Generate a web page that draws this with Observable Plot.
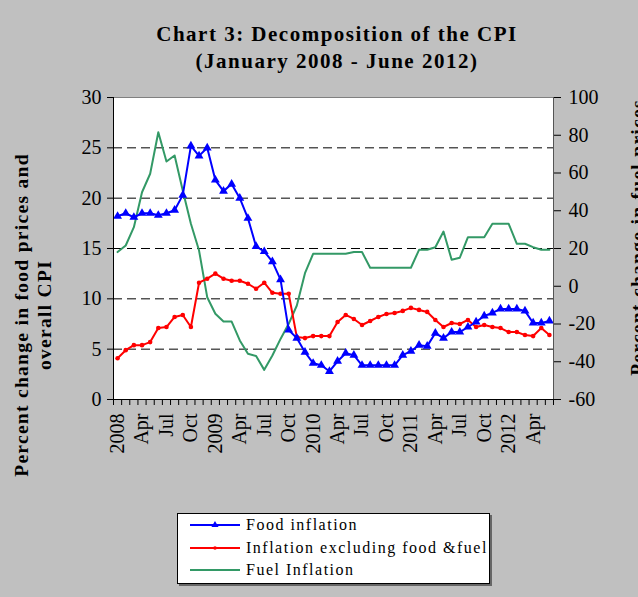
<!DOCTYPE html>
<html>
<head>
<meta charset="utf-8">
<script src="https://cdn.jsdelivr.net/npm/d3@7"></script>
<script src="https://cdn.jsdelivr.net/npm/@observablehq/plot@0.6"></script>
<style>
  html, body { margin: 0; padding: 0; }
  #wrap { position: relative; width: 638px; height: 597px; background: #c0c0c0; overflow: hidden;
          font-family: "Liberation Serif", "Times New Roman", serif; }
  #title { position: absolute; left: 36px; top: 21px; width: 602px; text-align: center; font-weight: bold;
           font-size: 21px; line-height: 27px; letter-spacing: 1.5px; color: #000; }
  #chart { position: absolute; left: 0; top: 80px; }
  .ytitle { position: absolute; font-weight: bold; font-size: 19.5px; line-height: 23px; text-align: center;
            transform: rotate(-90deg); transform-origin: center center; letter-spacing: 1.3px; white-space: nowrap; }
  #legend { position: absolute; left: 177px; top: 513px; width: 311px; height: 69px; background: #fff;
            border: 1px solid #000; box-shadow: 2px 2px 0 #666; }
  .lrow { position: absolute; left: 0; height: 20px; display: flex; align-items: center; font-size: 16px;
          letter-spacing: 1.5px; white-space: nowrap; }
  .lrow svg { margin-left: 12px; margin-right: 6px; }
</style>
</head>
<body>
<div id="wrap">
  <div id="title">Chart 3: Decomposition of the CPI<br>(January 2008 - June 2012)</div>
  <div id="chart"></div>
  <div class="ytitle" style="left:-167px; top:292px; width:400px; height:46px;">Percent change in food prices and<br>overall CPI</div>
  <div class="ytitle" style="left:487px; top:226px; width:300px; height:23px;">Percent change in fuel prices</div>
  <div id="legend"></div>
</div>
<script>
// Monthly data, January 2008 – June 2012
const food = [18.2,18.5,18.1,18.5,18.5,18.3,18.5,18.8,20.3,25.2,
              24.2,25.0,21.8,20.7,21.4,20.0,18.0,15.2,14.7,13.7,
              11.9,6.9,6.1,4.7,3.6,3.4,2.8,3.8,4.6,4.4,
              3.4,3.4,3.4,3.4,3.4,4.4,4.8,5.4,5.3,6.6,
              6.1,6.7,6.7,7.2,7.7,8.3,8.6,9.0,9.0,9.0,
              8.8,7.6,7.6,7.8];
const core = [4.1,4.9,5.4,5.4,5.7,7.1,7.2,8.2,8.4,7.2,
              11.6,12.0,12.5,12.0,11.8,11.8,11.5,11.0,11.6,10.6,
              10.5,10.5,6.2,6.1,6.3,6.3,6.3,7.7,8.4,8.0,
              7.4,7.8,8.2,8.5,8.6,8.8,9.1,8.9,8.7,7.9,
              7.2,7.6,7.5,7.9,7.2,7.4,7.2,7.1,6.7,6.7,
              6.4,6.3,7.1,6.4];
const fuel = [18.1,21.6,31.3,49.8,59.6,81.6,66.1,69.3,50.7,33.1,
              18.9,-5.8,-14.6,-18.7,-18.7,-28.7,-35.8,-37.0,-44.3,-36.7,
              -27.9,-19.9,-10.2,6.9,17.2,17.2,17.2,17.2,17.2,18.1,
              18.1,9.8,9.8,9.8,9.8,9.8,9.8,19.3,19.3,20.7,
              29.0,14.0,15.1,26.0,26.0,26.0,33.1,33.1,33.1,22.5,
              22.5,20.7,19.3,19.3];
const tickLabels = ["2008","Apr","Jul","Oct","2009","Apr","Jul","Oct","2010","Apr","Jul","Oct",
                    "2011","Apr","Jul","Oct","2012","Apr"];
const leftTicks = [0,5,10,15,20,25,30];
const gridLines = [5,10,15,20,25];
const rightTicks = [-60,-40,-20,0,20,40,60,80,100];
const seriesNames = ["Food inflation", "Inflation excluding food &fuel", "Fuel Inflation"];
const colors = ["#0000ff", "#ff0000", "#339966"];

// right axis (fuel) mapped onto left scale: [-60,100] -> [0,30]
const k = 30 / 160;
const toLeft = f => (f + 60) * k;
const fromLeft = v => Math.round(v / k - 60);

const n = food.length;
const rows = d3.range(n).map(i => ({i, food: food[i], core: core[i], fuel: fuel[i], fuelY: toLeft(fuel[i])}));
const font = '"Liberation Serif", "Times New Roman", serif';

const chart = Plot.plot({
  width: 638,
  height: 420,
  marginTop: 17,
  marginBottom: 101,
  marginLeft: 113,
  marginRight: 85,
  style: {background: "#fff0", fontFamily: font, fontSize: "20px", color: "#000", overflow: "visible"},
  x: {type: "linear", domain: [-0.5, n - 0.5], axis: null},
  y: {domain: [0, 30], axis: null},
  marks: [
    Plot.frame({fill: "#fff", stroke: "#808080"}),
    Plot.ruleY(gridLines, {stroke: "#000", strokeDasharray: "9,5", strokeWidth: 1}),
    Plot.line(rows, {x: "i", y: "fuelY", stroke: colors[2], strokeWidth: 2}),
    Plot.line(rows, {x: "i", y: "core", stroke: colors[1], strokeWidth: 2}),
    Plot.dot(rows, {x: "i", y: "core", fill: colors[1], r: 2.3, stroke: "none"}),
    Plot.line(rows, {x: "i", y: "food", stroke: colors[0], strokeWidth: 2}),
    Plot.dot(rows, {x: "i", y: "food", symbol: "triangle", fill: colors[0], r: 3.3, stroke: "none"}),
    // axis lines
    Plot.ruleX([-0.5], {stroke: "#000", strokeWidth: 1}),
    Plot.ruleY([0], {stroke: "#000", strokeWidth: 1}),
    Plot.ruleX([n - 0.5], {stroke: "#555", strokeWidth: 1}),
    // left axis
    Plot.axisY(leftTicks, {anchor: "left", tickSize: 6, tickPadding: 6, fontSize: 20, label: null, stroke: "#000"}),
    // right axis
    Plot.axisY(rightTicks.map(toLeft), {anchor: "right", tickSize: 7, tickPadding: 8, fontSize: 20, label: null,
      tickFormat: v => String(fromLeft(v)), stroke: "#000"}),
    // x minor ticks at month boundaries
    Plot.axisX(d3.range(n + 1).map(i => i - 0.5), {anchor: "bottom", tickSize: 6, tickFormat: () => "", label: null, stroke: "#000"}),
    // x labels every quarter
    Plot.axisX(d3.range(0, n, 3), {anchor: "bottom", tickSize: 0, tickPadding: 14, tickRotate: -90, fontSize: 20,
      tickFormat: i => tickLabels[i / 3], label: null})
  ]
});
document.getElementById("chart").appendChild(chart);

// legend
const legend = document.getElementById("legend");
const rowTops = [1, 24, 46];
seriesNames.forEach((name, j) => {
  const row = document.createElement("div");
  row.className = "lrow";
  row.style.top = rowTops[j] + "px";
  const svg = d3.create("svg").attr("width", 50).attr("height", 20);
  svg.append("line").attr("x1", 0).attr("x2", 50).attr("y1", 10).attr("y2", 10)
     .attr("stroke", colors[j]).attr("stroke-width", 2);
  if (j === 0) svg.append("path").attr("d", d3.symbol(d3.symbolTriangle, 22)()).attr("transform", "translate(25,10)").attr("fill", colors[0]);
  if (j === 1) svg.append("circle").attr("cx", 25).attr("cy", 10).attr("r", 1.8).attr("fill", colors[1]);
  row.appendChild(svg.node());
  const span = document.createElement("span");
  span.textContent = name;
  row.appendChild(span);
  legend.appendChild(row);
});
</script>
</body>
</html>
